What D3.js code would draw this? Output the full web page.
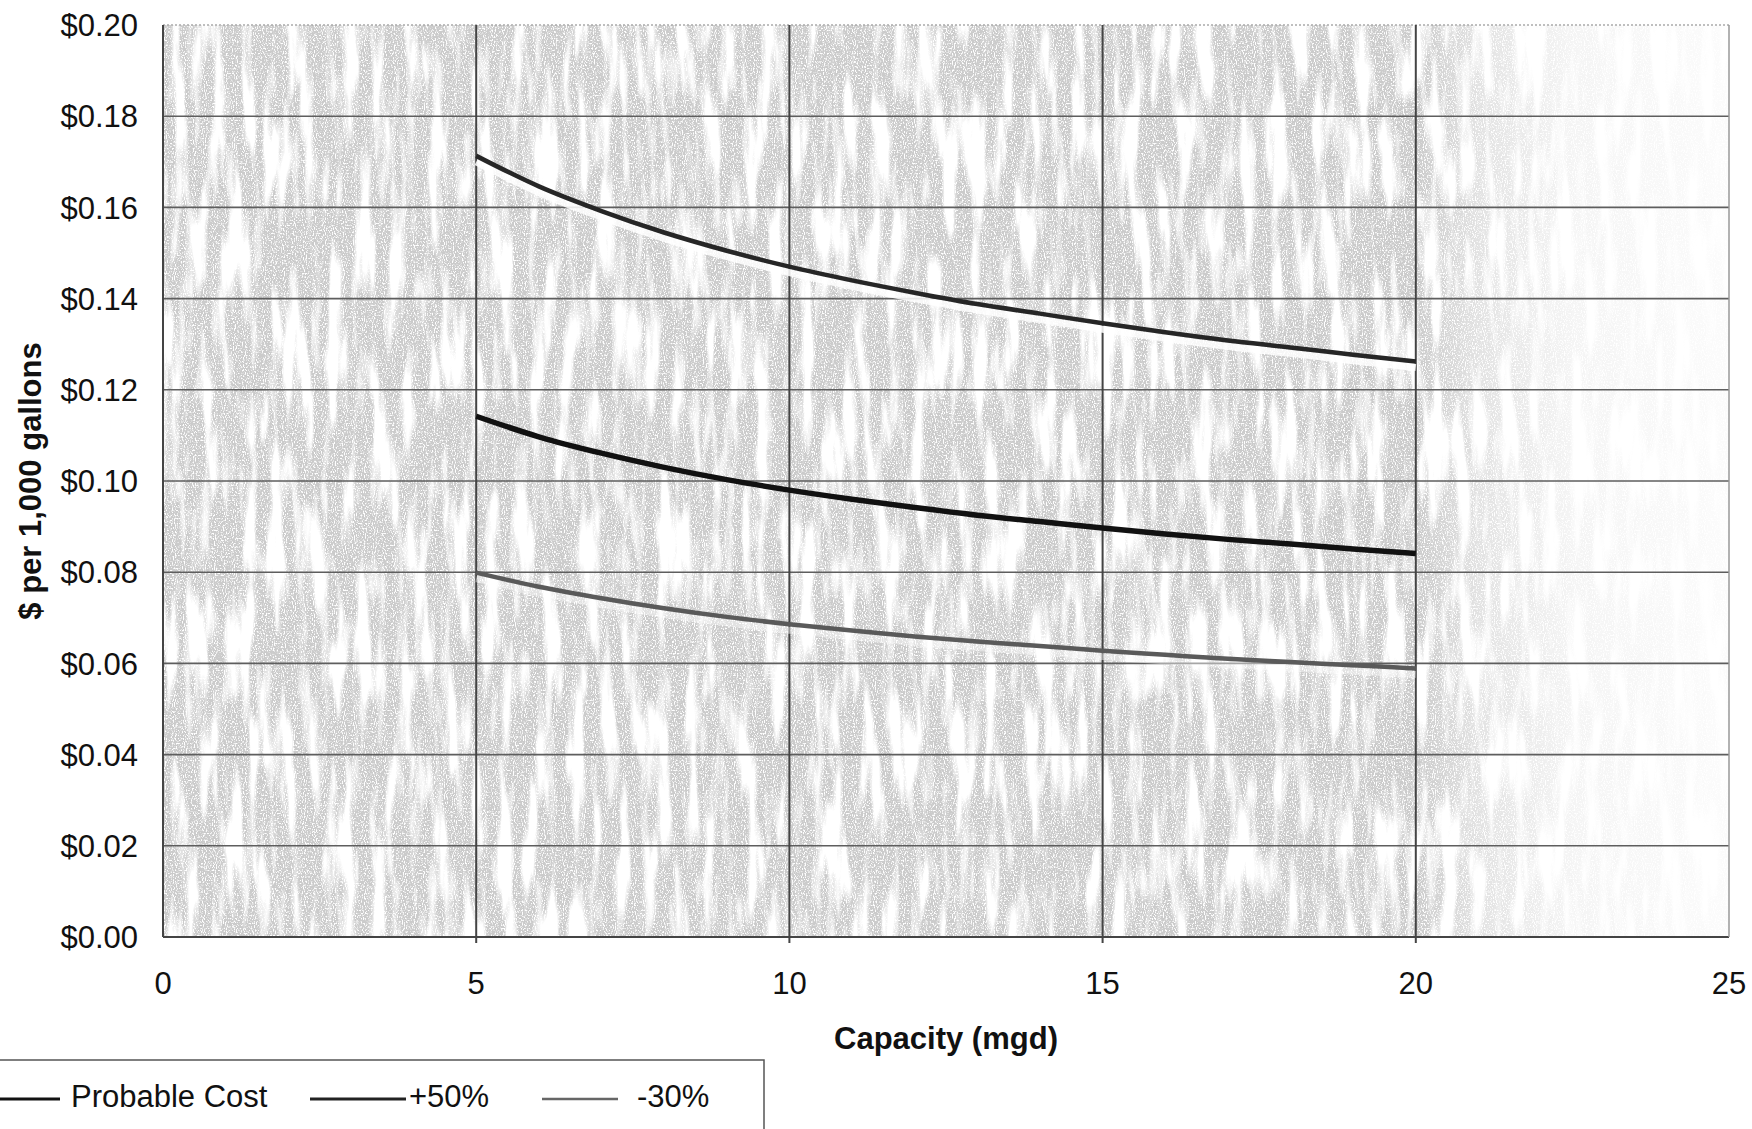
<!DOCTYPE html>
<html>
<head>
<meta charset="utf-8">
<script src="https://cdn.jsdelivr.net/npm/d3@7"></script>
<style>
  html, body { margin: 0; padding: 0; background: #fff; }
  svg { display: block; }
  text { font-family: "Liberation Sans", Arial, Helvetica, sans-serif; fill: #111; }
</style>
</head>
<body>
<svg id="chart" width="1752" height="1129"></svg>
<script>
// ---- data ----
const capacity = [5, 6, 7, 8, 9, 10, 11, 12, 13, 14, 15, 16, 17, 18, 19, 20];
const probableCost = [0.1142, 0.1097, 0.1061, 0.1030, 0.1003, 0.0980, 0.0960, 0.0942,
                      0.0925, 0.0911, 0.0897, 0.0884, 0.0872, 0.0862, 0.0851, 0.0841];
const plus50 = [0.1713, 0.1646, 0.1592, 0.1545, 0.1505, 0.1470, 0.1440, 0.1413,
                0.1388, 0.1367, 0.1346, 0.1326, 0.1308, 0.1293, 0.1277, 0.1262];
const minus30 = [0.0799, 0.0768, 0.0743, 0.0721, 0.0702, 0.0686, 0.0672, 0.0659,
                 0.0648, 0.0638, 0.0628, 0.0619, 0.0610, 0.0603, 0.0596, 0.0589];
const xTicks = [0, 5, 10, 15, 20, 25];
const yTicks = [0, 0.02, 0.04, 0.06, 0.08, 0.10, 0.12, 0.14, 0.16, 0.18, 0.20];
const seriesNames = ["Probable Cost", "+50%", "-30%"];
const xTitle = "Capacity (mgd)";
const yTitle = "$ per 1,000 gallons";

// ---- layout ----
const svg = d3.select("#chart");
const x = d3.scaleLinear().domain([0, 25]).range([163, 1729]);
const y = d3.scaleLinear().domain([0, 0.20]).range([937, 25]);

const defs = svg.append("defs");

// stippled scan texture
const f = defs.append("filter").attr("id", "tex")
  .attr("x", 0).attr("y", 0).attr("width", 1).attr("height", 1)
  .attr("filterUnits", "objectBoundingBox");
f.append("feTurbulence").attr("type", "fractalNoise")
  .attr("baseFrequency", "0.07 0.010").attr("numOctaves", 3).attr("seed", 7).attr("result", "big");
f.append("feColorMatrix").attr("in", "big").attr("type", "matrix")
  .attr("values", "0 0 0 0 0  0 0 0 0 0  0 0 0 0 0  5 0 0 0 -1.7").attr("result", "bigA");
f.append("feTurbulence").attr("type", "fractalNoise")
  .attr("baseFrequency", "0.9 0.6").attr("numOctaves", 1).attr("seed", 3).attr("result", "fine");
f.append("feColorMatrix").attr("in", "fine").attr("type", "matrix")
  .attr("values", "0 0 0 0 0.6  0 0 0 0 0.6  0 0 0 0 0.6  6 0 0 0 -2.0").attr("result", "fineA");
f.append("feComposite").attr("in", "fineA").attr("in2", "bigA").attr("operator", "in");

// fading of the texture right of x = 20
const grad = defs.append("linearGradient").attr("id", "fade")
  .attr("gradientUnits", "userSpaceOnUse")
  .attr("x1", x(0)).attr("x2", x(25)).attr("y1", 0).attr("y2", 0);
[[0, 1], [20, 1], [21, 0.55], [22.5, 0.2], [25, 0.07]].forEach(([v, o]) => {
  grad.append("stop").attr("offset", (x(v) - x(0)) / (x(25) - x(0)))
    .attr("stop-color", "#fff").attr("stop-opacity", o);
});
const mask = defs.append("mask").attr("id", "fadeMask");
mask.append("rect").attr("x", x(0)).attr("y", y(0.2)).attr("width", x(25) - x(0))
  .attr("height", y(0) - y(0.2)).attr("fill", "url(#fade)");

const plot = svg.append("g");
plot.append("rect").attr("x", x(0)).attr("y", y(0.2))
  .attr("width", x(25) - x(0)).attr("height", y(0) - y(0.2)).attr("fill", "#fff");
plot.append("rect").attr("x", x(0)).attr("y", y(0.2))
  .attr("width", x(25) - x(0)).attr("height", y(0) - y(0.2))
  .attr("fill", "#9e9e9e").attr("filter", "url(#tex)").attr("mask", "url(#fadeMask)");

// gridlines
plot.append("g").selectAll("line").data(yTicks).join("line")
  .attr("x1", x(0)).attr("x2", x(25))
  .attr("y1", d => y(d)).attr("y2", d => y(d))
  .attr("stroke", d => d === 0 ? "#444" : (d === 0.2 ? "#aaa" : "#5e5e5e"))
  .attr("stroke-width", d => d === 0 ? 2 : 1.6)
  .attr("stroke-dasharray", d => d === 0.2 ? "2 2" : null);
plot.append("g").selectAll("line").data(xTicks).join("line")
  .attr("x1", d => x(d)).attr("x2", d => x(d))
  .attr("y1", y(0.2)).attr("y2", d => (d === 0 || d === 25) ? y(0) : y(0) + 6)
  .attr("stroke", d => d === 25 ? "#999" : "#444")
  .attr("stroke-width", d => d === 25 ? 1.5 : 2);

// axis labels
svg.append("g").selectAll("text").data(yTicks).join("text")
  .attr("x", 138).attr("y", d => y(d)).attr("dy", "0.36em")
  .attr("text-anchor", "end").attr("font-size", 31)
  .text(d => d3.format("$.2f")(d));
svg.append("g").selectAll("text").data(xTicks).join("text")
  .attr("x", d => x(d)).attr("y", y(0) + 57)
  .attr("text-anchor", "middle").attr("font-size", 31)
  .text(d => d);

svg.append("text").attr("x", 946).attr("y", 1049).attr("text-anchor", "middle")
  .attr("font-size", 31).attr("font-weight", "bold").text(xTitle);
svg.append("text").attr("transform", `translate(41,${481}) rotate(-90)`)
  .attr("text-anchor", "middle").attr("font-size", 31).attr("font-weight", "bold").text(yTitle);

// series lines
const line = d3.line().x((d, i) => x(capacity[i])).y(d => y(d)).curve(d3.curveMonotoneX);
const styles = [
  { data: probableCost, color: "#111", width: 5.5, halo: 0 },
  { data: plus50, color: "#262626", width: 4.5, halo: 0.85 },
  { data: minus30, color: "#5a5a5a", width: 4.5, halo: 0.45 }
];
styles.forEach(s => {
  if (s.halo) {
    svg.append("path").attr("d", line(s.data)).attr("fill", "none")
      .attr("stroke", "#fff").attr("stroke-width", 7).attr("opacity", s.halo)
      .attr("transform", "translate(0,6)");
  }
});
styles.forEach(s => {
  svg.append("path").attr("d", line(s.data)).attr("fill", "none")
    .attr("stroke", s.color).attr("stroke-width", s.width).attr("stroke-linecap", "butt");
});

// legend
const lg = svg.append("g");
lg.append("rect").attr("x", -3).attr("y", 1060).attr("width", 767).attr("height", 120)
  .attr("fill", "#fff").attr("stroke", "#555").attr("stroke-width", 1.5);
const legendItems = [
  { name: seriesNames[0], x1: -2, x2: 60, tx: 71, color: "#111", w: 3 },
  { name: seriesNames[1], x1: 310, x2: 406, tx: 409, color: "#222", w: 3 },
  { name: seriesNames[2], x1: 542, x2: 618, tx: 637, color: "#666", w: 2.5 }
];
legendItems.forEach(it => {
  lg.append("line").attr("x1", it.x1).attr("x2", it.x2).attr("y1", 1099).attr("y2", 1099)
    .attr("stroke", it.color).attr("stroke-width", it.w);
  lg.append("text").attr("x", it.tx).attr("y", 1107).attr("font-size", 31).text(it.name);
});
</script>
</body>
</html>
